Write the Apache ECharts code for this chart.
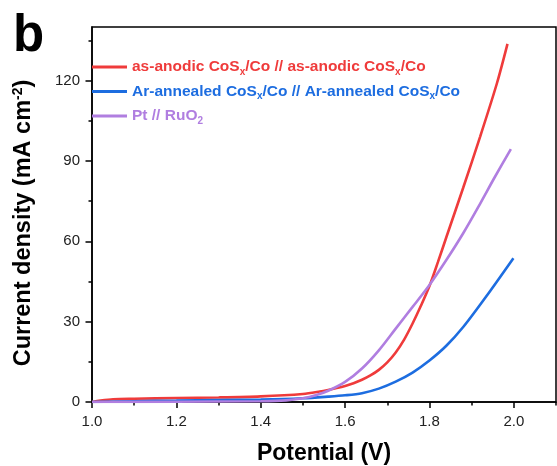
<!DOCTYPE html>
<html>
<head>
<meta charset="utf-8">
<script src="https://cdn.jsdelivr.net/npm/echarts@6/dist/echarts.min.js"></script>
<style>
  html, body { margin: 0; padding: 0; background: #fff; }
  #chart { width: 557px; height: 466px; }
</style>
</head>
<body>
<div id="chart"></div>
<script>
// data (potential in V, current density in mA cm-2)
const redV = [1.00, 1.02, 1.05, 1.10, 1.20, 1.30, 1.40, 1.50, 1.54, 1.56, 1.58, 1.60, 1.62, 1.64, 1.66, 1.68, 1.70, 1.72, 1.74, 1.76, 1.78, 1.80, 1.82, 1.84, 1.88, 1.92, 1.96, 1.985]
const redJ = [0, 0.5, 1.0, 1.2, 1.5, 1.7, 2.1, 3.0, 3.9, 4.5, 5.2, 6.0, 7.0, 8.3, 9.9, 12.0, 14.8, 18.5, 23.3, 29.3, 36.0, 43.3, 52.2, 61.5, 80.0, 99.0, 119.0, 133.7]

const blueV = [1.00, 1.10, 1.20, 1.30, 1.40, 1.50, 1.56, 1.60, 1.64, 1.68, 1.72, 1.76, 1.80, 1.84, 1.88, 1.934, 1.999]
const blueJ = [0, 0.3, 0.5, 0.7, 0.9, 1.4, 2.0, 2.5, 3.3, 5.0, 7.6, 11.0, 15.5, 21.0, 28.0, 39.3, 53.7]

const purpleV = [1.00, 1.20, 1.40, 1.46, 1.50, 1.53, 1.56, 1.60, 1.64, 1.68, 1.72, 1.76, 1.80, 1.84, 1.88, 1.92, 1.955, 1.993]
const purpleJ = [0, 0.1, 0.3, 0.6, 1.4, 2.5, 4.2, 7.5, 12.5, 19.3, 27.4, 35.5, 43.7, 53.0, 63.0, 74.0, 84.0, 94.4]

const xMajor = [1.0, 1.2, 1.4, 1.6, 1.8, 2.0]
const xMinor = [1.1, 1.3, 1.5, 1.7, 1.9, 2.1]
const yMajor = [0, 30, 60, 90, 120]
const yMinor = [15, 45, 75, 105, 135]

const names = ['red', 'blue', 'purple']
const colors = { red: '#ef3b3b', blue: '#1d6de0', purple: '#b07ee0' }

function pairs (xs, ys) {
  return xs.map((x, i) => [x, ys[i]])
}

const font = 'Liberation Sans, Arial, sans-serif'

// legend labels with subscripts
const legendText = {
  red: '{r|as-anodic CoS}{rs|x}{r|/Co // as-anodic CoS}{rs|x}{r|/Co}',
  blue: '{b|Ar-annealed CoS}{bs|x}{b|/Co // Ar-annealed CoS}{bs|x}{b|/Co}',
  purple: '{p|Pt // RuO}{ps|2}'
}

function richFor (c) {
  return [
    { color: c, fontSize: 15.5, fontWeight: 'bold', fontFamily: font, lineHeight: 20, verticalAlign: 'middle' },
    { color: c, fontSize: 10, fontWeight: 'bold', fontFamily: font, lineHeight: 9, verticalAlign: 'bottom' }
  ]
}
const rr = richFor(colors.red), bb = richFor(colors.blue), pp = richFor(colors.purple)

var myChart = echarts.init(document.getElementById('chart'), null, { renderer: 'canvas' })

var axisBlack = { lineStyle: { color: '#000', width: 1.5 } }

var option = {
  animation: false,
  backgroundColor: '#fff',
  title: {
    text: 'b',
    left: 13,
    top: 11,
    padding: 0,
    textStyle: { fontSize: 51, fontWeight: 'bold', color: '#000', fontFamily: font }
  },
  grid: {
    left: 92, right: 1, top: 27, bottom: 64,
    outerBoundsMode: 'none',
    containLabel: false,
    show: true, borderColor: '#000', borderWidth: 1.5
  },
  legend: {
    orient: 'vertical',
    left: 92,
    top: 59,
    padding: 0,
    icon: 'rect',
    itemWidth: 35,
    itemHeight: 3,
    itemGap: 6.5,
    data: names,
    formatter: (n) => legendText[n],
    textStyle: {
      rich: { r: rr[0], rs: rr[1], b: bb[0], bs: bb[1], p: pp[0], ps: pp[1] }
    }
  },
  xAxis: [
    {
      type: 'value', min: 1.0, max: 2.1,
      axisLine: axisBlack,
      axisTick: { show: true, length: 6, lineStyle: { color: '#000', width: 1.5 }, customValues: xMajor },
      axisLabel: {
        customValues: xMajor, margin: 12, fontSize: 15, color: '#222', fontFamily: font,
        formatter: (v) => v.toFixed(1)
      },
      splitLine: { show: false },
      name: 'Potential (V)',
      nameLocation: 'middle',
      nameGap: 40,
      nameTextStyle: { fontSize: 23, fontWeight: 'bold', color: '#000', fontFamily: font }
    },
    {
      type: 'value', min: 1.0, max: 2.1, position: 'bottom',
      axisLine: { show: false },
      axisTick: { show: true, length: 3.5, lineStyle: { color: '#000', width: 1.5 }, customValues: xMinor },
      axisLabel: { show: false },
      splitLine: { show: false }
    }
  ],
  yAxis: [
    {
      type: 'value', min: 0, max: 140,
      axisLine: { show: true, lineStyle: { color: '#000', width: 1.5 } },
      axisTick: { show: true, length: 6.5, lineStyle: { color: '#000', width: 1.5 }, customValues: yMajor },
      axisLabel: { customValues: yMajor, margin: 12, fontSize: 15, color: '#222', fontFamily: font },
      splitLine: { show: false },
      name: '{t|Current density (mA cm}{s|-2}{t|)}',
      nameLocation: 'middle',
      nameGap: 55,
      nameTextStyle: {
        padding: [0, 17, 0, 0],
        rich: {
          t: { fontSize: 23.5, fontWeight: 'bold', color: '#000', fontFamily: font, lineHeight: 26, verticalAlign: 'middle' },
          s: { fontSize: 14, fontWeight: 'bold', color: '#000', fontFamily: font, lineHeight: 12, verticalAlign: 'top' }
        }
      }
    },
    {
      type: 'value', min: 0, max: 140, position: 'left',
      axisLine: { show: false },
      axisTick: { show: true, length: 3.5, lineStyle: { color: '#000', width: 1.5 }, customValues: yMinor },
      axisLabel: { show: false },
      splitLine: { show: false }
    }
  ],
  series: [
    { name: 'red', type: 'line', data: pairs(redV, redJ) },
    { name: 'blue', type: 'line', data: pairs(blueV, blueJ) },
    { name: 'purple', type: 'line', data: pairs(purpleV, purpleJ) }
  ].map((s) => Object.assign(s, {
    symbol: 'none',
    smooth: 0.3,
    color: colors[s.name],
    lineStyle: { width: 2.6, color: colors[s.name] }
  }))
}

myChart.setOption(option)
</script>
</body>
</html>
